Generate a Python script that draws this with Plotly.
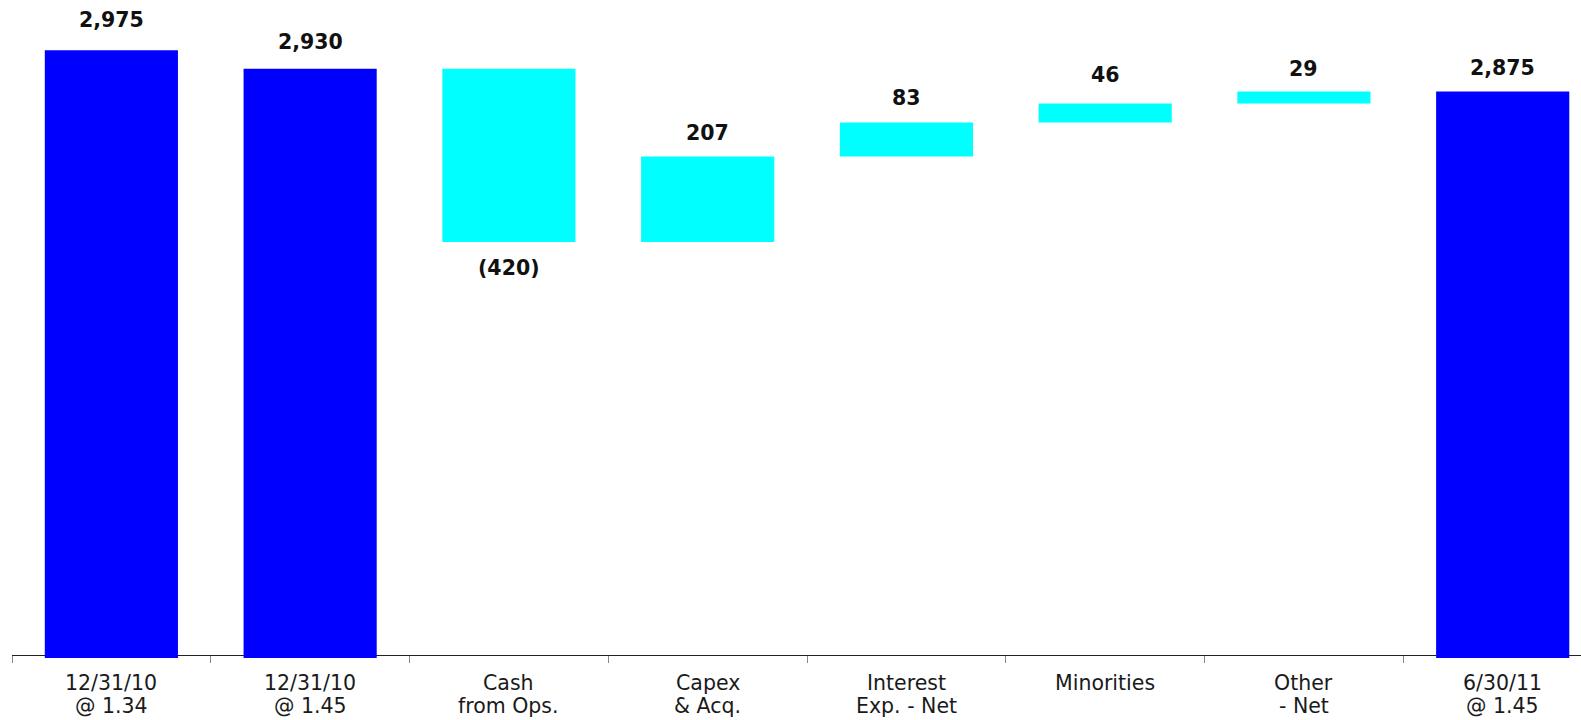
import plotly.graph_objects as go

# ---- data ----
categories = [
    "12/31/10<br>@ 1.34",
    "12/31/10<br>@ 1.45",
    "Cash<br>from Ops.",
    "Capex<br>& Acq.",
    "Interest<br>Exp. - Net",
    "Minorities",
    "Other<br>- Net",
    "6/30/11<br>@ 1.45",
]
values = [2975, 2930, -420, 207, 83, 46, 29, 2875]
measures = ["absolute", "absolute", "relative", "relative",
            "relative", "relative", "relative", "total"]

# label offsets from bar edge (px) - styling only
label_offsets = [30, 27, 26, 24, 24, 28, 23, 23.5]

TOTAL_COLOR = "#0000FF"
STEP_COLOR = "#00FFFF"
Y_BASE = 1500
PX_PER_UNIT = 0.412

fig = go.Figure()
fig.add_trace(go.Waterfall(
    x=categories,
    y=values,
    measure=measures,
    width=0.67,
    connector=dict(visible=False),
    increasing=dict(marker=dict(color=STEP_COLOR, line=dict(width=0))),
    decreasing=dict(marker=dict(color=STEP_COLOR, line=dict(width=0))),
    totals=dict(marker=dict(color=TOTAL_COLOR, line=dict(width=0))),
    textinfo="none",
    hoverinfo="skip",
))

# value labels at bar ends
level = 0
annotations = []
for cat, v, m, off in zip(categories, values, measures, label_offsets):
    if m == "absolute":
        level = v
        top, bottom, neg = v, Y_BASE, False
    elif m == "total":
        top, bottom, neg = level, Y_BASE, False
    else:
        start = level
        level = level + v
        top, bottom, neg = max(start, level), min(start, level), v < 0
    if neg:
        txt = "({:,})".format(abs(v))
        y, shift = bottom, -off
    else:
        txt = "{:,}".format(v if m != "total" else level)
        y, shift = top, off
    annotations.append(dict(
        x=cat, y=y, xref="x", yref="y", text="<b>%s</b>" % txt,
        showarrow=False, yanchor="middle", yshift=shift,
        font=dict(family="DejaVu Sans", size=20.5, color="#111111"),
    ))

# category labels, one annotation per line (tighter line spacing)
line_shifts = [-11, -34]
for cat in categories:
    for line_txt, ys in zip(cat.split("<br>"), line_shifts):
        annotations.append(dict(
            x=cat, y=Y_BASE, xref="x", yref="y", text=line_txt,
            showarrow=False, yanchor="top", xanchor="center", yshift=ys,
            font=dict(family="DejaVu Sans", size=20.5, color="#1a1a1a"),
        ))

W, H = 1581, 720
M_L, M_T, M_B = 12, 0, 50
paper_h = H - M_T - M_B
y_bottom_px = 658   # px where value Y_BASE sits
axis_px = 655       # px of the x axis line
dom_bottom = (paper_h - (y_bottom_px - M_T)) / paper_h
axis_pos = (paper_h - (axis_px - M_T)) / paper_h
y_top = Y_BASE + (y_bottom_px - M_T) / PX_PER_UNIT

cat_w = 198.76
plot_w = W - M_L
x_right = -0.5 + plot_w / cat_w

fig.update_layout(
    width=W, height=H,
    margin=dict(l=M_L, r=0, t=M_T, b=M_B, autoexpand=False),
    paper_bgcolor="white", plot_bgcolor="white",
    showlegend=False,
    annotations=annotations,
    xaxis=dict(
        type="category",
        range=[-0.5, x_right],
        anchor="free", position=axis_pos,
        showline=True, linecolor="#222222", linewidth=1,
        ticks="outside", tickson="boundaries", ticklen=7,
        tickcolor="#888888", tickwidth=1,
        showticklabels=False, automargin=False,
        showgrid=False, zeroline=False,
        layer="below traces",
    ),
    yaxis=dict(
        range=[Y_BASE, y_top],
        domain=[dom_bottom, 1],
        visible=False, showgrid=False, zeroline=False,
        automargin=False,
    ),
)

fig.write_html(
    "out.html",
    config={"displayModeBar": False},
    post_script="document.body.style.margin='0';document.body.style.overflow='hidden';",
)
